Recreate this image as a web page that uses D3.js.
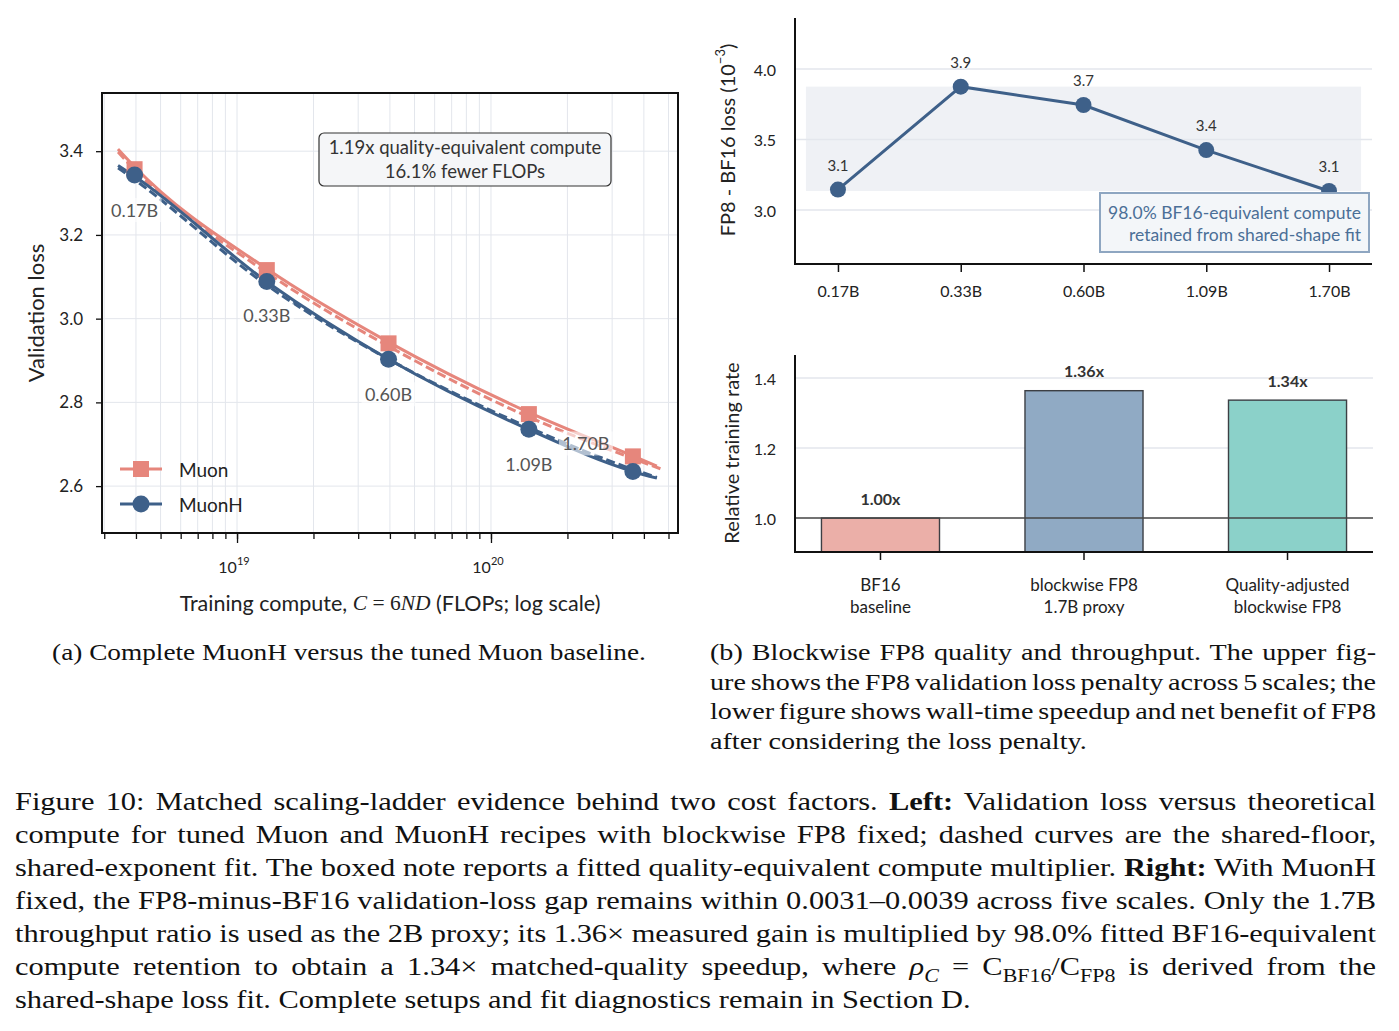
<!DOCTYPE html>
<html>
<head>
<meta charset="utf-8">
<script src="https://cdn.jsdelivr.net/npm/d3@7"></script>
<style>
body { margin: 0; background: #fff; }
svg text { font-family: Lato, "Open Sans", sans-serif; fill: #222; }
svg text.cap, svg text.cap tspan { font-family: "Liberation Serif", "DejaVu Serif", serif; fill: #111; }
</style>
</head>
<body>
<svg id="fig" width="1399" height="1031"></svg>
<script>
// ---- data: left panel (validation loss vs compute)
var sizes = ["0.17B", "0.33B", "0.60B", "1.09B", "1.70B"];
var compute = [3.95e18, 1.31e19, 3.95e19, 1.41e20, 3.62e20];
var muonLoss = [3.357, 3.116, 2.941, 2.772, 2.671];
var muonHLoss = [3.343, 3.089, 2.903, 2.736, 2.635];

// fitted curves
var fitCompute = [3.4e18, 3.95e18, 1.31e19, 3.95e19, 1.41e20, 3.62e20, 4.5e20];
var muonFit = [3.405, 3.363, 3.119, 2.944, 2.776, 2.672, 2.648];
var muonShared = [3.398, 3.356, 3.110, 2.934, 2.765, 2.666, 2.640];
var muonHFit = [3.366, 3.340, 3.088, 2.903, 2.735, 2.635, 2.619];
var muonHShared = [3.360, 3.332, 3.080, 2.903, 2.740, 2.640, 2.621];
var leftYTicks = [2.6, 2.8, 3.0, 3.2, 3.4];
var noteLines = ["1.19x quality-equivalent compute", "16.1% fewer FLOPs"];

// ---- data: top right (FP8 - BF16 gap, 1e-3)
var gapValues = [3.145, 3.875, 3.745, 3.425, 3.135];
var gapYTicks = [3.0, 3.5, 4.0];
var gapNote = ["98.0% BF16-equivalent compute", "retained from shared-shape fit"];

// ---- data: bottom right (relative training rate)
var rateCats = [["BF16", "baseline"], ["blockwise FP8", "1.7B proxy"], ["Quality-adjusted", "blockwise FP8"]];
var rates = [1.00, 1.364, 1.337];
var rateYTicks = [1.0, 1.2, 1.4];

// ---- captions
var capA = [[{t: "(a) Complete MuonH versus the tuned Muon baseline."}]];
var capB = [
  [{t: "(b) Blockwise FP8 quality and throughput. The upper fig-"}],
  [{t: "ure shows the FP8 validation loss penalty across 5 scales; the"}],
  [{t: "lower figure shows wall-time speedup and net benefit of FP8"}],
  [{t: "after considering the loss penalty."}]
];
var capMain = [
  [{t: "Figure 10: Matched scaling-ladder evidence behind two cost factors. "}, {t: "Left:", b: 1}, {t: " Validation loss versus theoretical"}],
  [{t: "compute for tuned Muon and MuonH recipes with blockwise FP8 fixed; dashed curves are the shared-floor,"}],
  [{t: "shared-exponent fit. The boxed note reports a fitted quality-equivalent compute multiplier. "}, {t: "Right:", b: 1}, {t: " With MuonH"}],
  [{t: "fixed, the FP8-minus-BF16 validation-loss gap remains within 0.0031\u20130.0039 across five scales. Only the 1.7B"}],
  [{t: "throughput ratio is used as the 2B proxy; its 1.36\u00d7 measured gain is multiplied by 98.0% fitted BF16-equivalent"}],
  [{t: "compute retention to obtain a 1.34\u00d7 matched-quality speedup, where "}, {t: "\u03c1", i: 1}, {t: "C", sub: 1, i: 1},
   {t: " = C"}, {t: "BF16", sub: 1}, {t: "/C"}, {t: "FP8", sub: 1}, {t: " is derived from the"}],
  [{t: "shared-shape loss fit. Complete setups and fit diagnostics remain in Section D."}]
];

var svg = d3.select("#fig");
var gridCol = "#e3e6ec";
var muonCol = "#e6867c", muonHCol = "#3e6089";

// ================= left panel =================
var xL = d3.scaleLog().domain([2.94e18, 5.45e20]).range([102, 678]);
var yL = d3.scaleLinear().domain([2.488, 3.539]).range([533, 93]);
var left = svg.append("g");

var logTicks = xL.ticks();
var majorTicks = logTicks.filter(function(d) { return Math.abs(Math.log10(d) % 1) < 1e-9; });

left.selectAll("line.vgrid").data(logTicks).enter().append("line")
  .attr("x1", function(d) { return xL(d); }).attr("x2", function(d) { return xL(d); })
  .attr("y1", 93).attr("y2", 533)
  .attr("stroke", gridCol).attr("stroke-width", 1);
left.selectAll("line.hgrid").data(leftYTicks).enter().append("line")
  .attr("x1", 102).attr("x2", 678)
  .attr("y1", function(d) { return yL(d); }).attr("y2", function(d) { return yL(d); })
  .attr("stroke", gridCol).attr("stroke-width", 1);

// axes
var xAxisMinor = d3.axisBottom(xL).tickValues(logTicks).tickSize(6).tickFormat("");
var xAxisMajor = d3.axisBottom(xL).tickValues(majorTicks).tickSize(10).tickFormat("");
[xAxisMinor, xAxisMajor].forEach(function(ax) {
  var g = left.append("g").attr("transform", "translate(0,533)").call(ax);
  g.select(".domain").remove();
  g.selectAll("line").attr("stroke", "#111").attr("stroke-width", 1.3);
});
majorTicks.forEach(function(d) {
  var t = left.append("text").attr("x", xL(d) - 3).attr("y", 573)
    .attr("text-anchor", "middle").attr("font-size", 16);
  t.append("tspan").text("10");
  t.append("tspan").attr("dy", -8).attr("font-size", 11).text(Math.round(Math.log10(d)));
});

var yAxisL = left.append("g").attr("transform", "translate(102,0)")
  .call(d3.axisLeft(yL).tickValues(leftYTicks).tickSize(6).tickFormat(d3.format(".1f")));
yAxisL.select(".domain").remove();
yAxisL.selectAll("line").attr("stroke", "#111").attr("stroke-width", 1.3);
yAxisL.selectAll("text").attr("font-size", 17).attr("fill", "#222").attr("x", -19)
  .style("font-family", "Lato, sans-serif");

// curves
var line = d3.line().x(function(d) { return xL(d[0]); }).y(function(d) { return yL(d[1]); })
  .curve(d3.curveMonotoneX);
function pairs(xs, ys) { return xs.map(function(x, i) { return [x, ys[i]]; }); }
var curves = [
  {v: muonFit, c: muonCol, dash: null},
  {v: muonShared, c: muonCol, dash: "9,4", xEnd: 4.72e20},
  {v: muonHFit, c: muonHCol, dash: null},
  {v: muonHShared, c: muonHCol, dash: "9,4"}
];
curves.forEach(function(cv) {
  var pts = pairs(fitCompute, cv.v);
  if (cv.xEnd) pts[pts.length - 1] = [cv.xEnd, cv.v[cv.v.length - 1]];
  left.append("path").attr("d", line(pts)).attr("fill", "none")
    .attr("stroke", cv.c).attr("stroke-width", 3)
    .attr("stroke-dasharray", cv.dash);
});

// markers
left.selectAll("rect.muon").data(pairs(compute, muonLoss)).enter().append("rect")
  .attr("x", function(d) { return xL(d[0]) - 8; }).attr("y", function(d) { return yL(d[1]) - 8; })
  .attr("width", 16).attr("height", 16).attr("fill", muonCol);
left.selectAll("circle.muonh").data(pairs(compute, muonHLoss)).enter().append("circle")
  .attr("cx", function(d) { return xL(d[0]); }).attr("cy", function(d) { return yL(d[1]); })
  .attr("r", 8.5).attr("fill", muonHCol);

// size labels with translucent boxes
var labelOffsets = [[0, 35], [0, 34], [0, 35], [0, 35], [-47, -28]];
sizes.forEach(function(s, i) {
  var cx = xL(compute[i]) + labelOffsets[i][0];
  var cy = yL(muonHLoss[i]) + labelOffsets[i][1];
  left.append("rect").attr("x", cx - 27).attr("y", cy - 12).attr("width", 54).attr("height", 24)
    .attr("fill", "#fff").attr("fill-opacity", 0.6);
  left.append("text").attr("x", cx).attr("y", cy).attr("text-anchor", "middle")
    .attr("dominant-baseline", "central").attr("font-size", 18).style("fill", "#555").text(s);
});

// note box
left.append("rect").attr("x", 319).attr("y", 133).attr("width", 292).attr("height", 53).attr("rx", 5)
  .attr("fill", "#f5f6f8").attr("stroke", "#333").attr("stroke-width", 1.2);
noteLines.forEach(function(s, i) {
  left.append("text").attr("x", 465).attr("y", 147 + i * 24).attr("text-anchor", "middle")
    .attr("dominant-baseline", "central").attr("font-size", 18.5).style("fill", "#333").text(s);
});

// legend
var legend = [{name: "Muon", c: muonCol, shape: "square"}, {name: "MuonH", c: muonHCol, shape: "circle"}];
legend.forEach(function(l, i) {
  var y = 469 + i * 35;
  left.append("line").attr("x1", 120).attr("x2", 162).attr("y1", y).attr("y2", y)
    .attr("stroke", l.c).attr("stroke-width", 3);
  if (l.shape === "square") {
    left.append("rect").attr("x", 133).attr("y", y - 8).attr("width", 16).attr("height", 16).attr("fill", l.c);
  } else {
    left.append("circle").attr("cx", 141).attr("cy", y).attr("r", 8.5).attr("fill", l.c);
  }
  left.append("text").attr("x", 179).attr("y", y).attr("dominant-baseline", "central")
    .attr("font-size", 19).text(l.name);
});

// frame
left.append("rect").attr("x", 102).attr("y", 93).attr("width", 576).attr("height", 440)
  .attr("fill", "none").attr("stroke", "#111").attr("stroke-width", 2);

// axis titles
left.append("text").attr("transform", "translate(35,313) rotate(-90)")
  .attr("text-anchor", "middle").attr("dominant-baseline", "central").attr("font-size", 22)
  .text("Validation loss");
var xt = left.append("text").attr("x", 390).attr("y", 603).attr("text-anchor", "middle")
  .attr("dominant-baseline", "central").attr("font-size", 21.5);
xt.append("tspan").text("Training compute, ");
xt.append("tspan").style("font-family", "Liberation Serif, serif").style("font-style", "italic").text("C");
xt.append("tspan").style("font-family", "Liberation Serif, serif").text(" = 6");
xt.append("tspan").style("font-family", "Liberation Serif, serif").style("font-style", "italic").text("ND");
xt.append("tspan").text(" (FLOPs; log scale)");

// ================= top right panel =================
var xT = d3.scalePoint().domain(sizes).range([795, 1372]).padding(0.35);
var yT = d3.scaleLinear().domain([2.617, 4.362]).range([264, 18]);
var gapPanel = svg.append("g");

gapPanel.selectAll("line.grid").data(gapYTicks).enter().append("line")
  .attr("x1", 795).attr("x2", 1372)
  .attr("y1", function(d) { return yT(d); }).attr("y2", function(d) { return yT(d); })
  .attr("stroke", gridCol).attr("stroke-width", 1.5);

var gapExt = d3.extent(gapValues);
gapPanel.append("rect").attr("x", xT(sizes[0]) - 32).attr("y", yT(gapExt[1]))
  .attr("width", xT(sizes[4]) - xT(sizes[0]) + 64).attr("height", yT(gapExt[0]) - yT(gapExt[1]))
  .attr("fill", "#e4e8ef").attr("fill-opacity", 0.6);

gapPanel.append("path").datum(gapValues)
  .attr("d", d3.line().x(function(d, i) { return xT(sizes[i]); }).y(function(d) { return yT(d); }))
  .attr("fill", "none").attr("stroke", muonHCol).attr("stroke-width", 3);
gapPanel.selectAll("circle").data(gapValues).enter().append("circle")
  .attr("cx", function(d, i) { return xT(sizes[i]); }).attr("cy", function(d) { return yT(d); })
  .attr("r", 8).attr("fill", muonHCol);
gapPanel.selectAll("text.val").data(gapValues).enter().append("text")
  .attr("x", function(d, i) { return xT(sizes[i]); }).attr("y", function(d) { return yT(d) - 25; })
  .attr("text-anchor", "middle").attr("dominant-baseline", "central").attr("font-size", 15)
  .style("fill", "#333").text(function(d) { return d.toFixed(1); });

// note box
gapPanel.append("rect").attr("x", 1100).attr("y", 193).attr("width", 269).attr("height", 59)
  .attr("fill", "#f3f6f9").attr("stroke", "#8ea6c1").attr("stroke-width", 2);
gapNote.forEach(function(s, i) {
  gapPanel.append("text").attr("x", 1361).attr("y", 212 + i * 22).attr("text-anchor", "end")
    .attr("dominant-baseline", "central").attr("font-size", 17.5).style("fill", "#4b6f97").text(s);
});

var xAxT = gapPanel.append("g").attr("transform", "translate(0,264)")
  .call(d3.axisBottom(xT).tickSize(8).tickPadding(14));
xAxT.select(".domain").remove();
xAxT.selectAll("line").attr("stroke", "#111").attr("stroke-width", 1.5);
xAxT.selectAll("text").attr("font-size", 16).attr("fill", "#222").style("font-family", "Lato, sans-serif");

gapPanel.selectAll("text.ytick").data(gapYTicks).enter().append("text")
  .attr("x", 776).attr("y", function(d) { return yT(d); }).attr("text-anchor", "end")
  .attr("dominant-baseline", "central").attr("font-size", 16).text(function(d) { return d.toFixed(1); });

gapPanel.append("line").attr("x1", 795).attr("x2", 795).attr("y1", 18).attr("y2", 265)
  .attr("stroke", "#111").attr("stroke-width", 2);
gapPanel.append("line").attr("x1", 794).attr("x2", 1372).attr("y1", 264).attr("y2", 264)
  .attr("stroke", "#111").attr("stroke-width", 2);

var ty = gapPanel.append("text").attr("transform", "translate(727,140) rotate(-90)")
  .attr("text-anchor", "middle").attr("dominant-baseline", "central").attr("font-size", 20);
ty.append("tspan").text("FP8 - BF16 loss (10");
ty.append("tspan").attr("dy", -7).attr("font-size", 13).text("\u22123");
ty.append("tspan").attr("dy", 7).text(")");

// ================= bottom right panel =================
var xB = d3.scaleBand().domain(d3.range(rates.length)).range([795, 1373])
  .paddingInner(0.42).paddingOuter(0.13);
var yB = d3.scaleLinear().domain([0.903, 1.466]).range([552, 355]);
var ratePanel = svg.append("g");
var barCols = ["#ebafa8", "#90aac4", "#8bd1c9"];

ratePanel.selectAll("line.grid").data(rateYTicks.slice(1)).enter().append("line")
  .attr("x1", 795).attr("x2", 1373)
  .attr("y1", function(d) { return yB(d); }).attr("y2", function(d) { return yB(d); })
  .attr("stroke", gridCol).attr("stroke-width", 1.5);

ratePanel.selectAll("rect.bar").data(rates).enter().append("rect")
  .attr("x", function(d, i) { return xB(i); }).attr("width", xB.bandwidth())
  .attr("y", function(d) { return yB(d); }).attr("height", function(d) { return yB(0.903) - yB(d); })
  .attr("fill", function(d, i) { return barCols[i]; })
  .attr("stroke", "#3c3f44").attr("stroke-width", 1.4);

ratePanel.append("line").attr("x1", 795).attr("x2", 1373).attr("y1", yB(1)).attr("y2", yB(1))
  .attr("stroke", "#454545").attr("stroke-width", 1.5);

ratePanel.selectAll("text.val").data(rates).enter().append("text")
  .attr("x", function(d, i) { return xB(i) + xB.bandwidth() / 2; })
  .attr("y", function(d) { return yB(d) - 20; })
  .attr("text-anchor", "middle").attr("dominant-baseline", "central")
  .attr("font-size", 16).attr("font-weight", "bold").style("fill", "#333")
  .text(function(d) { return d.toFixed(2) + "x"; });

rateCats.forEach(function(lines, i) {
  var cx = xB(i) + xB.bandwidth() / 2;
  ratePanel.append("line").attr("x1", cx).attr("x2", cx).attr("y1", 552).attr("y2", 560)
    .attr("stroke", "#111").attr("stroke-width", 1.5);
  lines.forEach(function(s, j) {
    ratePanel.append("text").attr("x", cx).attr("y", 584 + j * 22).attr("text-anchor", "middle")
      .attr("dominant-baseline", "central").attr("font-size", 17).text(s);
  });
});

ratePanel.selectAll("text.ytick").data(rateYTicks).enter().append("text")
  .attr("x", 776).attr("y", function(d) { return yB(d); }).attr("text-anchor", "end")
  .attr("dominant-baseline", "central").attr("font-size", 16).text(function(d) { return d.toFixed(1); });

ratePanel.append("line").attr("x1", 795).attr("x2", 795).attr("y1", 355).attr("y2", 553)
  .attr("stroke", "#111").attr("stroke-width", 2);
ratePanel.append("line").attr("x1", 794).attr("x2", 1373).attr("y1", 552).attr("y2", 552)
  .attr("stroke", "#111").attr("stroke-width", 2);

ratePanel.append("text").attr("transform", "translate(731,453) rotate(-90)")
  .attr("text-anchor", "middle").attr("dominant-baseline", "central").attr("font-size", 20)
  .text("Relative training rate");

// ================= captions =================
// Liberation Serif is narrower than the original face, so each block is
// widened horizontally (sx) until its last, unjustified line has the original width.
function buildLine(g, x, y, parts, size, sx) {
  var t = g.append("text").attr("class", "cap")
    .attr("transform", "translate(" + x + "," + y + ") scale(" + sx + ",1)")
    .attr("font-size", size);
  var shift = 0;
  parts.forEach(function(p) {
    var ts = t.append("tspan").text(p.t);
    if (p.b) ts.attr("font-weight", "bold");
    if (p.i) ts.attr("font-style", "italic");
    if (p.sub) { ts.attr("dy", 0.28 * size - shift).attr("font-size", size * 0.72); shift = 0.28 * size; }
    else if (shift) { ts.attr("dy", -shift); shift = 0; }
  });
  return t;
}
function textOf(parts) { return parts.map(function(p) { return p.t; }).join(""); }
function stretchFor(parts, target, size) {
  var t = buildLine(svg, -3000, -3000, parts, size, 1);
  var w = t.node().getComputedTextLength();
  t.remove();
  return Math.max(1, Math.min(1.3, target / w));
}
function block(lines, x0, y0, lead, widths, size, sx) {
  var g = svg.append("g");
  lines.forEach(function(parts, i) {
    var t = buildLine(g, x0, y0 + i * lead, parts, size, sx);
    if (widths[i]) {
      var w = t.node().getComputedTextLength();
      var n = (textOf(parts).match(/ /g) || []).length;
      if (n) t.style("word-spacing", ((widths[i] / sx - w) / n) + "px");
    }
  });
}

var subSize = 24, mainSize = 25.5;
var subSx = stretchFor(capB[3], 377, subSize);
var capASx = stretchFor(capA[0], 594, subSize);
var mainSx = stretchFor(capMain[6], 956, mainSize);

buildLine(svg, 349, 660, capA[0], subSize, capASx).attr("text-anchor", "middle");
block(capB, 710, 660, 29.7, [666, 666, 666, 0], subSize, subSx);
block(capMain, 15, 810, 33, [1361, 1361, 1361, 1361, 1361, 1361, 0], mainSize, mainSx);
</script>
</body>
</html>
